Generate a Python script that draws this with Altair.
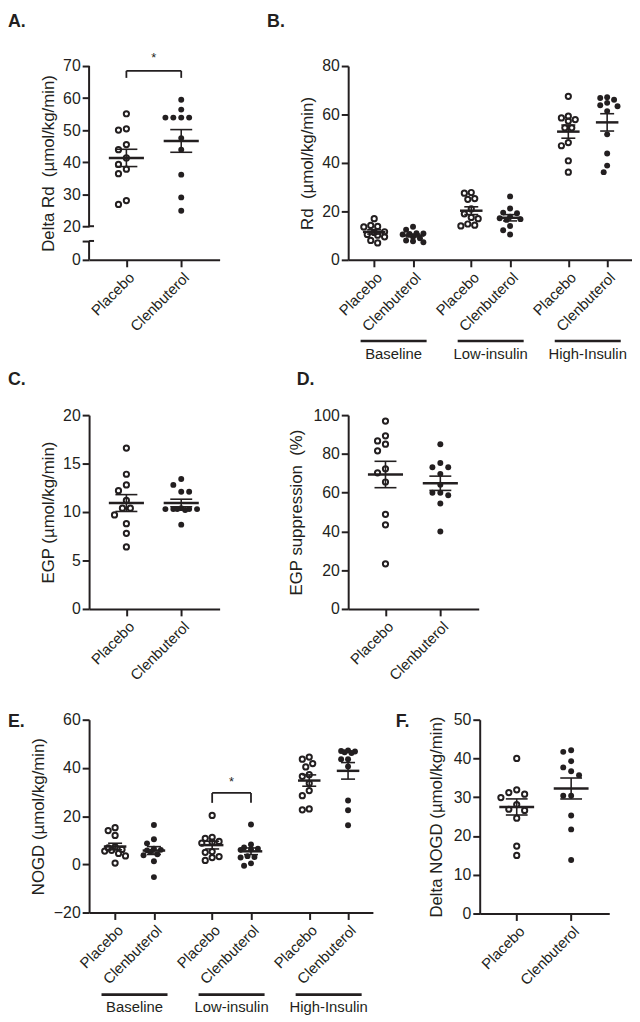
import altair as alt
import numpy as np
import pandas as pd

FONT = "Liberation Sans"
INK = "#231f20"

# ---------------- data ----------------
A_placebo = [55.1, 50.0, 50.4, 45.5, 43.9, 41.3, 39.3, 37.8, 36.4, 26.8, 28.0]
A_clen = [59.5, 56.4, 53.9, 53.9, 53.9, 53.9, 47.5, 43.9, 36.1, 29.0, 24.8]

B_base_placebo = [17.0, 14.2, 13.8, 13.6, 11.6, 11.3, 10.5, 10.2, 9.5, 8.0, 7.0]
B_base_clen = [13.7, 12.4, 11.0, 10.9, 10.7, 10.5, 9.5, 8.9, 8.0, 7.7, 7.3]
B_low_placebo = [27.5, 27.8, 25.3, 25.0, 21.0, 19.0, 17.0, 17.5, 14.0, 14.3, 14.8]
B_low_clen = [26.2, 21.2, 19.5, 19.2, 17.8, 17.2, 16.8, 16.5, 14.0, 12.2, 10.5]
B_high_placebo = [67.5, 59.3, 58.6, 57.9, 57.3, 54.5, 54.5, 48.4, 47.1, 40.9, 36.2]
B_high_clen = [67.1, 66.8, 66.1, 64.8, 63.8, 63.4, 61.4, 51.8, 43.9, 38.9, 36.2]

C_placebo = [16.6, 13.9, 12.8, 12.2, 11.2, 10.4, 10.4, 9.7, 8.8, 7.8, 6.4]
C_clen = [13.4, 12.8, 12.1, 12.1, 10.4, 10.3, 10.3, 10.3, 10.3, 10.3, 10.2, 8.7]

D_placebo = [96.9, 89.3, 86.7, 85.0, 81.6, 72.3, 70.2, 65.5, 48.8, 43.4, 23.3]
D_clen = [85.0, 75.3, 73.1, 73.1, 69.7, 64.1, 59.9, 59.9, 58.7, 54.4, 40.0]

E_base_placebo = [15.2, 14.0, 12.0, 7.2, 6.8, 6.2, 5.8, 5.5, 4.5, 3.5, 0.5]
E_base_clen = [16.3, 10.4, 8.7, 6.5, 6.0, 5.8, 5.2, 4.2, 3.8, 1.3, -5.3]
E_low_placebo = [20.3, 11.2, 10.8, 9.5, 9.2, 8.8, 5.3, 5.0, 3.2, 2.8, 1.6]
E_low_clen = [16.5, 8.2, 7.0, 6.5, 6.2, 6.0, 3.4, 3.0, 2.8, 0.4, -0.6]
E_high_placebo = [44.5, 43.6, 41.8, 40.4, 37.2, 36.5, 33.6, 30.6, 28.5, 23.0, 22.6]
E_high_clen = [47.2, 47.0, 46.8, 46.5, 46.2, 43.6, 43.6, 40.6, 26.5, 22.4, 16.2]

F_placebo = [40.0, 31.9, 31.2, 30.8, 29.9, 28.1, 26.9, 26.6, 24.6, 17.4, 15.0]
F_clen = [42.1, 41.7, 39.3, 37.7, 36.7, 35.7, 30.4, 30.4, 25.3, 21.7, 13.8]

TREATMENTS = ["Placebo", "Clenbuterol"]
PHASES = ["Baseline", "Low-insulin", "High-Insulin"]

# category positions on a numeric x scale
P2 = [0, 1]
P6 = [0, 1, 2.5, 3.5, 5, 6]
XD2 = [-0.68, 1.70]
XD6 = [-0.67, 6.64]


def swarm(vals, ky, kx, d=8.0, maxw=18.0):
    """simple beeswarm: horizontal offsets (in x units), spread limited to +-maxw px"""
    n = len(vals)
    order = sorted(range(n), key=lambda i: -vals[i])
    cands = [0.0]
    k = 1
    while k * d / 2 <= maxw + 1e-9:
        cands += [-k * d / 2, k * d / 2]
        k += 1
    placed, offs = [], [0.0] * n
    for i in order:
        yp = vals[i] * ky
        best, best_d = 0.0, -1.0
        for c in cands:
            md = min([np.hypot(c - px, yp - py) for px, py in placed] or [1e9])
            if md >= d:
                best = c
                break
            if md > best_d + 0.5:
                best, best_d = c, md
        placed.append((best, yp))
        offs[i] = best / kx
    return offs


def panel(groups, positions, xdom, ydom, yticks, w, h, ytitle, tpad,
          letter, lx, ly, ylabel_expr=None, ydomain=True, extra=(),
          mw=0.32, cw=0.2, d=8.0, maxw=18.0):
    kx = w / (xdom[1] - xdom[0])
    ky = h / (ydom[1] - ydom[0])
    rows, st, cp = [], [], []
    for gi, (vals, pos) in enumerate(zip(groups, positions)):
        tr = TREATMENTS[gi % 2]
        for v, o in zip(vals, swarm(vals, ky, kx, d, maxw)):
            rows.append({"pos": pos, "val": v, "xp": pos + o, "treat": tr})
        a = np.array(vals, dtype=float)
        m = a.mean()
        s = a.std(ddof=1) / np.sqrt(len(a))
        st.append({"pos": pos, "m": m, "lo": m - s, "hi": m + s,
                   "mx1": pos - mw, "mx2": pos + mw})
        cp += [{"c1": pos - cw, "c2": pos + cw, "cy": m - s},
               {"c1": pos - cw, "c2": pos + cw, "cy": m + s}]
    df = pd.DataFrame(rows)
    st = pd.DataFrame(st)
    cp = pd.DataFrame(cp)

    xs = alt.Scale(domain=xdom, nice=False, zero=False)
    ys = alt.Scale(domain=ydom, nice=False, zero=False)
    xax = alt.Axis(values=positions,
                   labelExpr="(datum.value == 0 || datum.value == 2.5 || datum.value == 5) ? 'Placebo' : 'Clenbuterol'",
                   labelAngle=-45, labelAlign="right", labelBaseline="top",
                   labelPadding=3, labelFontSize=15, labelOverlap=False,
                   labelFlush=False, title=None, grid=False, domainWidth=2,
                   tickWidth=2, tickSize=7)
    ykw = dict(values=yticks, title=ytitle, titlePadding=tpad,
               titleFontSize=17, titleFontWeight="normal", labelFontSize=16,
               labelPadding=2, labelOverlap=False, labelFlush=False,
               grid=False, domainWidth=2, tickWidth=2, tickSize=7,
               domain=ydomain, titleY=h / 2, titleAlign="center",
               titleBaseline="bottom", titleAngle=270)
    if ylabel_expr:
        ykw["labelExpr"] = ylabel_expr
    yax = alt.Axis(**ykw)

    def X(f):
        return alt.X(f, type="quantitative", scale=xs, axis=xax)

    def Y(f):
        return alt.Y(f, type="quantitative", scale=ys, axis=yax)

    open_pts = alt.Chart(df[df.treat == "Placebo"]).mark_point(
        shape="circle", filled=False, size=28, strokeWidth=2.0,
        color=INK, opacity=1).encode(x=X("xp"), y=Y("val"))
    fill_pts = alt.Chart(df[df.treat == "Clenbuterol"]).mark_circle(
        size=36, color=INK, opacity=1).encode(x=X("xp"), y=Y("val"))
    mean = alt.Chart(st).mark_rule(strokeWidth=2.5, color=INK).encode(
        x=X("mx1"), x2="mx2", y=Y("m"))
    semv = alt.Chart(st).mark_rule(strokeWidth=1.6, color=INK).encode(
        x=X("pos"), y=Y("lo"), y2="hi")
    caps = alt.Chart(cp).mark_rule(strokeWidth=1.6, color=INK).encode(
        x=X("c1"), x2="c2", y=Y("cy"))
    lab = alt.Chart(pd.DataFrame({"t": [letter]})).mark_text(
        align="left", baseline="top", fontSize=18, fontWeight="bold",
        font=FONT, color=INK).encode(text="t:N", x=alt.value(lx), y=alt.value(ly))
    layers = [open_pts, fill_pts, mean, semv, caps]
    layers += [fn(X, Y, kx) for fn in extra]
    layers.append(lab)
    return alt.layer(*layers).properties(width=w, height=h)


def group_labels(X, Y, kx):
    g = pd.DataFrame({"gc": [0.5, 3.0, 5.5], "name": PHASES})
    g["g1"] = g["gc"] - 0.85
    g["g2"] = g["gc"] + 0.85
    line = alt.Chart(g).mark_rule(strokeWidth=2.6, color=INK).encode(
        x=X("g1"), x2="g2", y=alt.value(278))
    txt = alt.Chart(g).mark_text(fontSize=15, font=FONT, color=INK,
                                 baseline="middle", align="center").encode(
        x=X("gc"), y=alt.value(291), text="name:N")
    return alt.layer(line, txt)


def bracket(x1, x2, ytop, yleg, ystar):
    def fn(X, Y, kx):
        b = pd.DataFrame({"bx1": [x1], "bx2": [x2], "by": [ytop]})
        legs = pd.DataFrame({"lx": [x1, x2], "ly1": [yleg, yleg], "ly2": [ytop, ytop]})
        s = pd.DataFrame({"sx": [(x1 + x2) / 2], "sy": [ystar], "t": ["*"]})
        hline = alt.Chart(b).mark_rule(strokeWidth=1.8, color=INK).encode(
            x=X("bx1"), x2="bx2", y=Y("by"))
        vl = alt.Chart(legs).mark_rule(strokeWidth=1.8, color=INK).encode(
            x=X("lx"), y=Y("ly1"), y2="ly2")
        star = alt.Chart(s).mark_text(fontSize=13, font=FONT, color=INK,
                                      baseline="middle").encode(
            x=X("sx"), y=Y("sy"), text="t:N")
        return alt.layer(hline, vl, star)
    return fn


A_LOW, A_BREAK = 9.5, 15.4


def axis_break(X, Y, kx):
    seg = pd.DataFrame({"xa": [XD2[0], XD2[0]], "ya": [A_LOW, 20], "yb": [A_BREAK, 70]})
    stub = pd.DataFrame({"s1": [XD2[0]] * 2, "s2": [XD2[0] + 5 / kx] * 2, "sy": [A_BREAK, 20]})
    l1 = alt.Chart(seg).mark_rule(strokeWidth=2, color=INK).encode(
        x=X("xa"), y=Y("ya"), y2="yb")
    l2 = alt.Chart(stub).mark_rule(strokeWidth=2, color=INK).encode(
        x=X("s1"), x2="s2", y=Y("sy"))
    return alt.layer(l1, l2)


NB = "\u00a0"

A = panel([A_placebo, A_clen], P2, XD2, [A_LOW, 70],
          [A_LOW, A_BREAK, 20, 30, 40, 50, 60, 70], 132, 196,
          f"Delta Rd{NB} (µmol/kg/min)", 5, "A.", -82, -53,
          ylabel_expr="datum.value < 10 ? '0' : (datum.value < 16 ? '' : datum.label)",
          ydomain=False,
          extra=[axis_break, bracket(0, 1, 68.5, 66.3, 72.6)])

B = panel([B_base_placebo, B_base_clen, B_low_placebo, B_low_clen,
           B_high_placebo, B_high_clen], P6, XD6, [0, 80],
          [0, 20, 40, 60, 80], 287, 196, f"Rd{NB} (µmol/kg/min)", 5, "B.", -82, -53,
          extra=[group_labels], mw=0.29, cw=0.18, d=7.0, maxw=12.0)

C = panel([C_placebo, C_clen], P2, XD2, [0, 20], [0, 5, 10, 15, 20], 132, 196,
          "EGP (µmol/kg/min)", 5, "C.", -82, -44, maxw=17.0)

D = panel([D_placebo, D_clen], P2, XD2, [0, 100], [0, 20, 40, 60, 80, 100],
          132, 196, f"EGP suppression{NB} (%)", 8, "D.", -52, -44)

E = panel([E_base_placebo, E_base_clen, E_low_placebo, E_low_clen,
           E_high_placebo, E_high_clen], P6, XD6, [-20, 60],
          [-20, 0, 20, 40, 60], 287, 195, "NOGD (µmol/kg/min)", 6, "E.", -82, -7,
          extra=[group_labels, bracket(2.5, 3.5, 29.6, 25.5, 34.0)],
          mw=0.29, cw=0.18, d=7.0, maxw=12.0)

F = panel([F_placebo, F_clen], P2, XD2, [0, 50], [0, 10, 20, 30, 40, 50],
          131, 196, "Delta NOGD (µmol/kg/min)", 8, "F.", -85, -7)

row1 = alt.hconcat(A, B, spacing=130, bounds="flush")
row2 = alt.hconcat(C, D, spacing=130, bounds="flush")
row3 = alt.hconcat(E, F, spacing=108, bounds="flush")
lower = alt.vconcat(row2, row3, spacing=308, bounds="flush")

chart = (
    alt.vconcat(row1, lower, spacing=353, bounds="flush")
    .properties(padding=0)
    .configure_view(stroke=None)
    .configure_axis(labelFont=FONT, titleFont=FONT, labelColor=INK,
                    titleColor=INK, domainColor=INK, tickColor=INK)
)

chart.save("out.html", embed_options={"renderer": "svg", "actions": False})
